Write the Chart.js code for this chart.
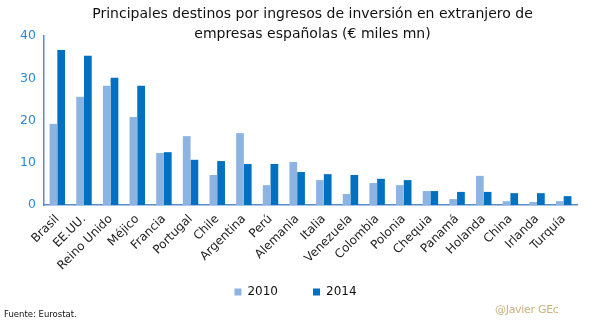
<!DOCTYPE html>
<html>
<head>
<meta charset="utf-8">
<script src="https://cdn.jsdelivr.net/npm/chart.js@4/dist/chart.umd.min.js"></script>
<style>
  html, body { margin: 0; padding: 0; background: #fff; }
  #wrap { position: relative; width: 605px; height: 324px; }
  #title { position: absolute; left: 0; top: 3px; width: 625px; text-align: center;
           font-family: "DejaVu Sans", sans-serif; font-size: 14px; line-height: 20px; color: #111; }
  #src { position: absolute; left: 4px; top: 309px; font-family: "DejaVu Sans", sans-serif;
         font-size: 8.5px; color: #111; }
  #sig { position: absolute; left: 495px; top: 303px; font-family: "DejaVu Sans", sans-serif;
         font-size: 11px; color: #C9B27C; letter-spacing: -0.3px; }
</style>
</head>
<body>
<div id="wrap">
  <canvas id="c" width="605" height="324"></canvas>
  <div id="title">Principales destinos por ingresos de inversión en extranjero de<br>empresas españolas (€ miles mn)</div>
  <div id="src">Fuente: Eurostat.</div>
  <div id="sig">@Javier GEc</div>
</div>
<script>
const categories = ["Brasil","EE.UU.","Reino Unido","Méjico","Francia","Portugal","Chile","Argentina","Perú","Alemania","Italia","Venezuela","Colombia","Polonia","Chequia","Panamá","Holanda","China","Irlanda","Turquía"];
const values2010 = [19.2,25.6,28.2,20.8,12.3,16.3,7.1,17.0,4.7,10.2,5.9,2.6,5.2,4.7,3.3,1.4,6.9,0.9,0.7,0.9];
const values2014 = [36.7,35.3,30.1,28.2,12.5,10.7,10.4,9.7,9.7,7.8,7.3,7.1,6.2,5.9,3.3,3.1,3.1,2.8,2.8,2.1];
const yTicks = [0,10,20,30,40];

// let rotated category labels extend below the (short) x-axis box without clipping
const CategoryScale = Chart.registry.getScale('category');
CategoryScale.prototype._computeLabelArea = function () { return undefined; };

// shift the legend slightly right to match the reference centring
const legendShift = {
  id: 'legendShift',
  afterLayout(chart) {
    const lg = chart.legend;
    if (lg && lg.legendHitBoxes) {
      lg.left += 7; lg.right += 7;
      lg.legendHitBoxes.forEach(h => { h.left += 7; });
    }
  }
};

const font = "DejaVu Sans";
new Chart(document.getElementById('c'), {
  type: 'bar',
  data: {
    labels: categories,
    datasets: [
      { label: '2010', data: values2010, backgroundColor: '#8DB3E2', categoryPercentage: 0.58, barPercentage: 1.0 },
      { label: '2014', data: values2014, backgroundColor: '#0070C0', categoryPercentage: 0.58, barPercentage: 1.0 }
    ]
  },
  plugins: [legendShift],
  options: {
    responsive: false,
    animation: false,
    layout: { padding: { top: 36, right: 28, left: 0, bottom: 16 } },
    plugins: {
      legend: {
        position: 'bottom',
        labels: { boxWidth: 7, boxHeight: 7, padding: 35, color: '#111', font: { family: font, size: 12 } }
      },
      tooltip: { enabled: false },
      title: { display: false }
    },
    scales: {
      x: {
        grid: { display: false, drawTicks: false },
        border: { color: '#5B8BC9', width: 1.5 },
        ticks: { minRotation: 45, maxRotation: 45, color: '#222', padding: 7, font: { family: font, size: 12 } },
        afterFit: s => { s.height = 46; }
      },
      y: {
        min: 0, max: 40,
        afterBuildTicks: s => { s.ticks = yTicks.map(v => ({ value: v })); },
        grid: { display: false, drawTicks: false },
        border: { color: '#5B8BC9', width: 1.5 },
        ticks: { color: '#2F86D6', padding: 8, font: { family: font, size: 12.5 } },
        afterFit: s => { s.width = 44; }
      }
    }
  }
});
</script>
</body>
</html>
